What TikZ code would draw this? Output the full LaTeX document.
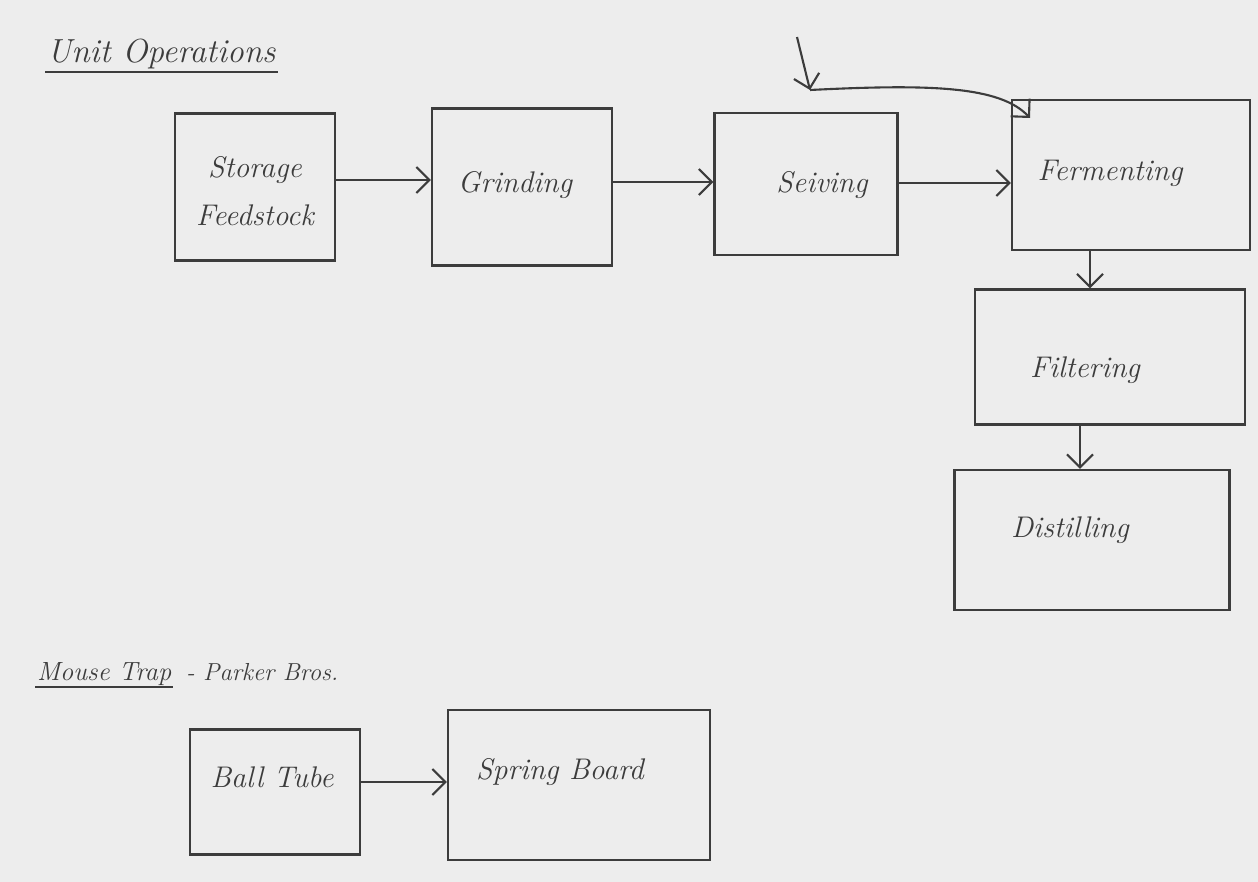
\documentclass[tikz,border=0pt]{standalone}
\usetikzlibrary{arrows.meta}
\definecolor{paper}{HTML}{EDEDED}
\definecolor{pencil}{HTML}{3C3C3C}
\tikzset{
  box/.style={draw=pencil, line width=1.3pt, rectangle, inner sep=0pt},
  lbl/.style={text=pencil, font=\itshape\fontsize{17}{19}\selectfont, inner sep=1pt},
  arr/.style={draw=pencil, line width=1.2pt, -{Straight Barb[length=2.6mm, width=5.2mm]}},
  heading/.style={text=pencil, font=\itshape\fontsize{19}{21}\selectfont, inner sep=1pt, anchor=base west},
}
\begin{document}
\begin{tikzpicture}[x=0.02cm, y=-0.02cm]
  % sheet of paper
  \fill[paper] (0,0) rectangle (1258,882);
  \useasboundingbox (0,0) rectangle (1258,882);

  % heading of the first sketch
  \node[heading] (unitops) at (45,63) {Unit Operations};
  \draw[pencil, line width=1.2pt] ([yshift=-5pt]unitops.base west) -- ([yshift=-5pt]unitops.base east);

  % process units
  \node[box, minimum width=3.2cm,  minimum height=2.94cm] (storage)   at (255,187) {};
  \node[box, minimum width=3.6cm,  minimum height=3.14cm] (grinding)  at (522,187) {};
  \node[box, minimum width=3.66cm, minimum height=2.84cm] (seiving)   at (806,184) {};
  \node[box, minimum width=4.76cm, minimum height=3.0cm]  (ferment)   at (1131,175) {};
  \node[box, minimum width=5.4cm,  minimum height=2.7cm]  (filter)    at (1110,357) {};
  \node[box, minimum width=5.5cm,  minimum height=2.8cm]  (distil)    at (1092,540) {};

  \node[lbl] (tstorage)  at (255,170) {Storage};
  \node[lbl] (tfeed)     at (255,215) {Feedstock};
  \node[lbl] (tgrind)    at (515,185) {Grinding};
  \node[lbl] (tseiv)     at (822,185) {Seiving};
  \node[lbl] (tferm)     at (1110,173) {Fermenting};
  \node[lbl] (tfilt)     at (1085,370) {Filtering};
  \node[lbl] (tdist)     at (1070,530) {Distilling};

  % flow between units
  \draw[arr] (storage.east |- 0,180) -- (grinding.west |- 0,180);
  \draw[arr] (grinding.east |- 0,182) -- (seiving.west |- 0,182);
  \draw[arr] (seiving.east |- 0,183) -- (ferment.west |- 0,183);
  \draw[arr] (ferment.south -| 1090,0) -- (filter.north -| 1090,0);
  \draw[arr] (filter.south -| 1080,0) -- (distil.north -| 1080,0);

  % feed entering above the sieve and bending into the fermenter
  \coordinate (feedtop)  at (797,37);
  \coordinate (feedjoin) at (810,90);
  \coordinate (fermin)   at (1030,118);
  \draw[arr] (feedtop) -- (feedjoin);
  \draw[arr] (feedjoin) .. controls (930,84) and (1000,86) .. (fermin);

  % heading of the second sketch
  \node[heading, font=\itshape\fontsize{15}{17}\selectfont] (mouse) at (35,680) {Mouse Trap};
  \draw[pencil, line width=1.2pt] ([yshift=-4pt]mouse.base west) -- ([yshift=-4pt]mouse.base east);
  \node[heading, font=\itshape\fontsize{14}{16}\selectfont] (parker) at ([xshift=6pt]mouse.base east) {- Parker Bros.};

  \node[box, minimum width=3.4cm,  minimum height=2.5cm] (balltube) at (275,792) {};
  \node[box, minimum width=5.24cm, minimum height=3.0cm] (spring)   at (579,785) {};
  \node[lbl] (tball)   at (272,777) {Ball Tube};
  \node[lbl] (tspring) at (560,772) {Spring Board};

  \draw[arr] (balltube.east |- 0,782) -- (spring.west |- 0,782);
\end{tikzpicture}
\end{document}
